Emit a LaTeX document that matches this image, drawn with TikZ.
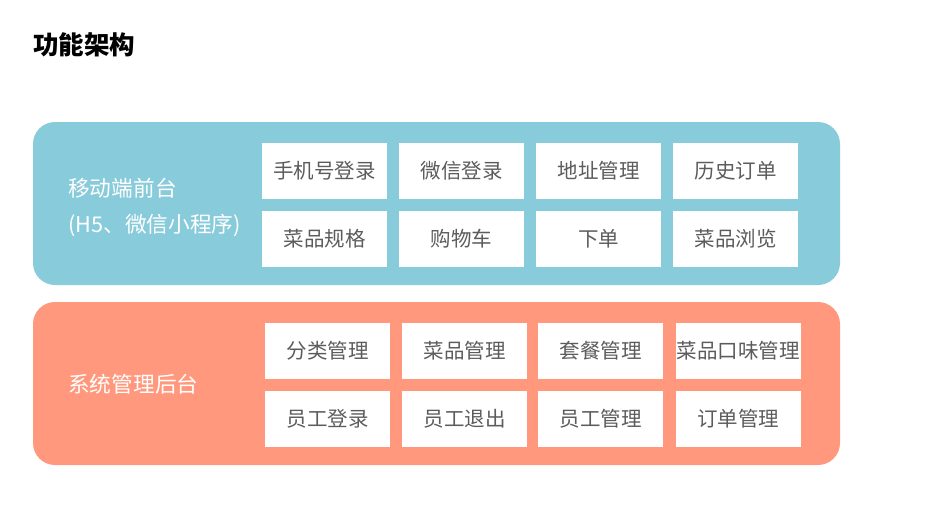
\documentclass[tikz,border=0pt]{standalone}
\usepackage{fontspec}
\setmainfont{Noto Sans CJK SC}
\usetikzlibrary{positioning}

\definecolor{frontblue}{RGB}{136,203,218}
\definecolor{backorange}{RGB}{255,152,124}
\definecolor{boxtext}{RGB}{92,92,92}

\tikzset{
  band/.style={rounded corners=22pt,draw=none,minimum width=807pt,minimum height=163pt,inner sep=0pt},
  func/.style={fill=white,minimum width=125pt,minimum height=56pt,inner sep=0pt,text=boxtext,font=\fontsize{20.5}{24}\selectfont},
  side/.style={anchor=west,text=white,inner sep=0pt,font=\fontsize{21.7}{26}\selectfont}
}

\begin{document}
\begin{tikzpicture}[x=1pt,y=-1pt]
\useasboundingbox (0,0) rectangle (932,522);

\node[anchor=west,inner sep=0pt,font=\bfseries\fontsize{25.5}{30}\selectfont] (title) at (33,45) {功能架构};

\node[band,fill=frontblue] (front) at (436.5,203.5) {};
\node[band,fill=backorange] (back) at (436.5,383.5) {};

\node[side] (frontname) at (68,188) {移动端前台};
\node[side] (frontsub) at (68,225) {(H5、微信小程序)};
\node[side] (backname) at (68,384) {系统管理后台};

\node[func] (phone) at (324.5,171) {手机号登录};
\node[func] (wechat) at (461.5,171) {微信登录};
\node[func] (address) at (598.5,171) {地址管理};
\node[func] (history) at (735.5,171) {历史订单};
\node[func] (spec) at (324.5,239) {菜品规格};
\node[func] (cart) at (461.5,239) {购物车};
\node[func] (order) at (598.5,239) {下单};
\node[func] (browse) at (735.5,239) {菜品浏览};

\node[func] (category) at (327.5,351) {分类管理};
\node[func] (dish) at (464.5,351) {菜品管理};
\node[func] (setmeal) at (600.5,351) {套餐管理};
\node[func] (flavor) at (738,351) {菜品口味管理};
\node[func] (login) at (327.5,419) {员工登录};
\node[func] (logout) at (464.5,419) {员工退出};
\node[func] (staff) at (600.5,419) {员工管理};
\node[func] (orders) at (738,419) {订单管理};

\end{tikzpicture}
\end{document}
